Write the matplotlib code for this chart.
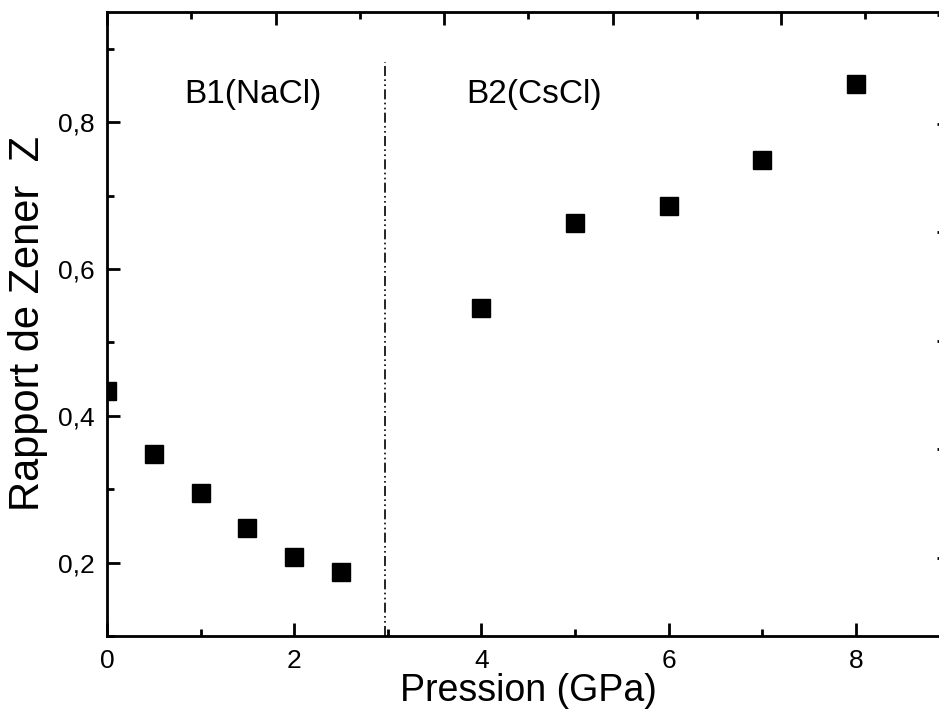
import numpy as np
import matplotlib
matplotlib.use("Agg")
import matplotlib.pyplot as plt
from matplotlib.ticker import MultipleLocator, FuncFormatter

plt.rcParams['font.family'] = ['Liberation Sans', 'DejaVu Sans']

# data
pression = [0, 0.5, 1, 1.5, 2, 2.5, 4, 5, 6, 7, 8]
zener = [0.434, 0.348, 0.295, 0.247, 0.207, 0.187, 0.547, 0.663, 0.686, 0.748, 0.852]
p_transition = 2.97
line_top = 0.882
phase_labels = ["B1(NaCl)", "B2(CsCl)"]
phase_x = [1.56, 4.56]
phase_y = 0.838

fig = plt.figure(figsize=(9.39, 7.22), dpi=100)
ax = fig.add_axes([0.114, 0.1191, 0.8972, 0.8643])

ax.plot(pression, zener, 's', color='black', markersize=13, clip_on=True)
ax.vlines(p_transition, 0.1, line_top, colors='black', linewidth=1.2,
          linestyles=(0, (6, 2, 1, 2, 1, 2)))

for lab, xx in zip(phase_labels, phase_x):
    ax.text(xx, phase_y, lab, fontsize=24, ha='center', va='center')

ax.set_xlim(0, 9)
ax.set_ylim(0.1, 0.95)
ax.xaxis.set_major_locator(MultipleLocator(2))
ax.xaxis.set_minor_locator(MultipleLocator(1))
ax.yaxis.set_major_locator(MultipleLocator(0.2))
ax.yaxis.set_minor_locator(MultipleLocator(0.1))
ax.yaxis.set_major_formatter(FuncFormatter(lambda v, p: ('%.1f' % v).replace('.', ',')))
ax.tick_params(which='major', direction='in', length=9.5, width=2, labelsize=19, pad=9)
ax.tick_params(which='minor', direction='in', length=5, width=2)
for s in ax.spines.values():
    s.set_linewidth(2)

ax.set_xlabel('Pression (GPa)', fontsize=27, labelpad=0)
ax.set_ylabel('Rapport de Zener  Z', fontsize=30, labelpad=7)

# top and right frame ticks with their own scales
top = ax.twiny()
top.set_xlim(0, 10)
top.xaxis.set_major_locator(MultipleLocator(2))
top.xaxis.set_minor_locator(MultipleLocator(1))
top.tick_params(which='major', direction='in', length=9.5, width=2, labeltop=False)
top.tick_params(which='minor', direction='in', length=5, width=2)

right = ax.twinx()
right.set_ylim(-0.72, 5.03)
right.yaxis.set_major_locator(MultipleLocator(1))
right.tick_params(which='major', direction='in', length=9.5, width=2, labelright=False)
right.tick_params(which='minor', length=0)

fig.savefig('out.png', dpi=100)
